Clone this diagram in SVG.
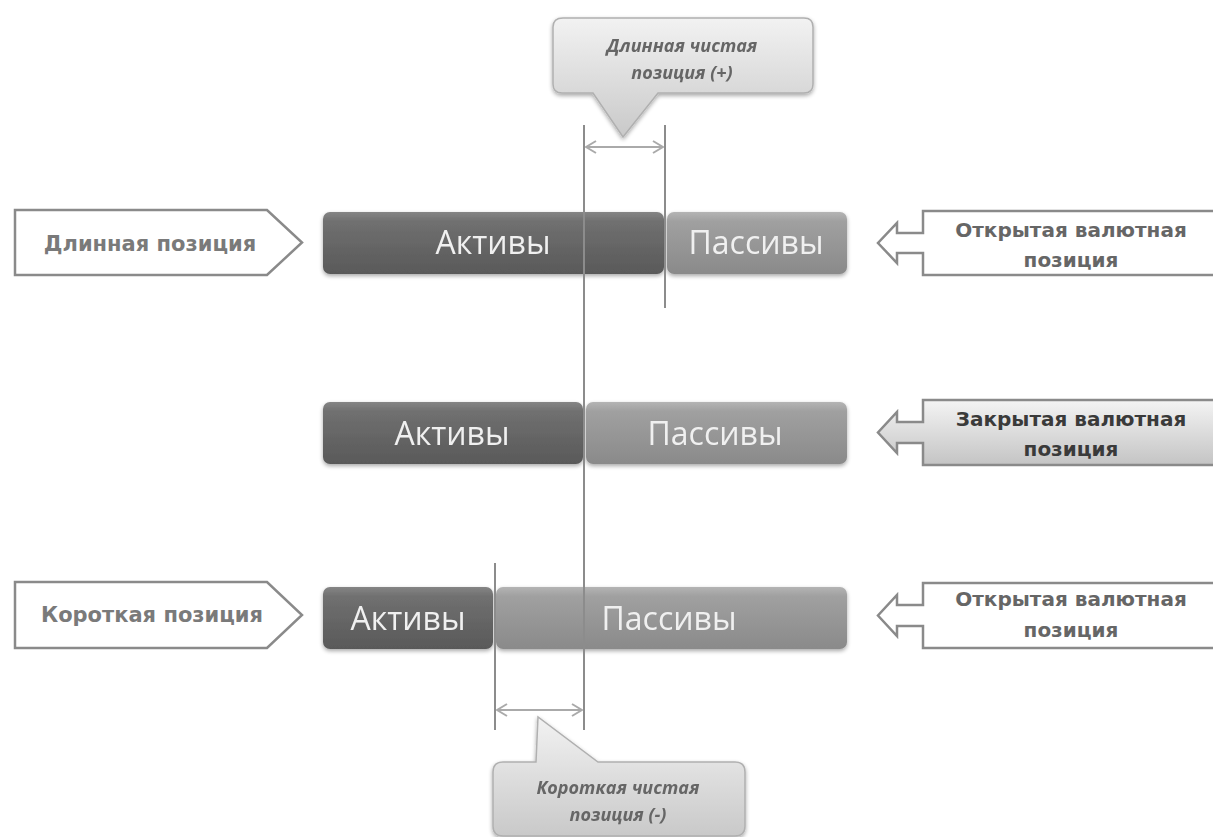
<svg xmlns="http://www.w3.org/2000/svg" width="1213" height="837" viewBox="0 0 1213 837">
<defs>
<linearGradient id="gDark" x1="0" y1="0" x2="0" y2="1">
<stop offset="0" stop-color="#858585"/><stop offset="0.15" stop-color="#707070"/><stop offset="1" stop-color="#595959"/>
</linearGradient>
<linearGradient id="gLight" x1="0" y1="0" x2="0" y2="1">
<stop offset="0" stop-color="#b4b4b4"/><stop offset="0.15" stop-color="#a0a0a0"/><stop offset="1" stop-color="#8a8a8a"/>
</linearGradient>
<linearGradient id="gCall" x1="0" y1="0" x2="0" y2="1">
<stop offset="0" stop-color="#f2f2f2"/><stop offset="1" stop-color="#c9c9c9"/>
</linearGradient>
<linearGradient id="gClosed" x1="0" y1="0" x2="0" y2="1">
<stop offset="0" stop-color="#f4f4f4"/><stop offset="1" stop-color="#c4c4c4"/>
</linearGradient>
<filter id="sh" x="-5%" y="-20%" width="110%" height="150%">
<feGaussianBlur in="SourceAlpha" stdDeviation="2"/>
<feOffset dy="2"/>
<feComponentTransfer><feFuncA type="linear" slope="0.35"/></feComponentTransfer>
<feMerge><feMergeNode/><feMergeNode in="SourceGraphic"/></feMerge>
</filter>
<marker id="ah" viewBox="0 0 12 14" refX="11" refY="7" markerWidth="12" markerHeight="14" markerUnits="userSpaceOnUse" orient="auto-start-reverse">
<path d="M1,1 L11,7 L1,13" fill="none" stroke="#aaaaaa" stroke-width="2"/>
</marker>
</defs>
<style>
.bar{font-family:"Open Sans","Noto Sans","DejaVu Sans",sans-serif;font-size:32px;fill:#f0f0f0;text-anchor:middle}
.lbl{font-family:"DejaVu Sans","Open Sans",sans-serif;font-weight:bold;font-size:21px;fill:#7a7a7a;text-anchor:middle}
.rlbl{font-family:"DejaVu Sans","Open Sans",sans-serif;font-weight:bold;font-size:20px;fill:#666;text-anchor:middle}
.rlbl2{fill:#3a3a3a}
.call{font-family:"Open Sans","DejaVu Sans",sans-serif;font-weight:bold;font-style:italic;font-size:18px;fill:#666;text-anchor:middle}
.box{fill:#fff;stroke:#8a8a8a;stroke-width:2.5}
.cbox{fill:url(#gCall);stroke:#b0b0b0;stroke-width:1.5}
.vl{stroke:#8c8c8c;stroke-width:2;fill:none}
.dim{stroke:#aaaaaa;stroke-width:2;fill:none}
</style>

<g id="long-position">
<polygon class="box" points="15,210 267,210 302,242.5 267,275 15,275"/>
<text class="lbl" x="150" y="251">Длинная позиция</text>
</g>
<g id="short-position">
<polygon class="box" points="15,582 267,582 302,615 267,648 15,648"/>
<text class="lbl" x="152" y="622">Короткая позиция</text>
</g>

<g id="row1-assets" filter="url(#sh)">
<rect x="323" y="212" width="341" height="62" rx="7" fill="url(#gDark)"/>
<text class="bar" x="493" y="254">Активы</text>
</g>
<g id="row1-liabilities" filter="url(#sh)">
<rect x="667" y="212" width="180" height="62" rx="7" fill="url(#gLight)"/>
<text class="bar" x="756" y="254">Пассивы</text>
</g>
<g id="row2-assets" filter="url(#sh)">
<rect x="323" y="402" width="260" height="62" rx="7" fill="url(#gDark)"/>
<text class="bar" x="452" y="445">Активы</text>
</g>
<g id="row2-liabilities" filter="url(#sh)">
<rect x="586" y="402" width="261" height="62" rx="7" fill="url(#gLight)"/>
<text class="bar" x="715" y="445">Пассивы</text>
</g>
<g id="row3-assets" filter="url(#sh)">
<rect x="323" y="587" width="170" height="62" rx="7" fill="url(#gDark)"/>
<text class="bar" x="408" y="630">Активы</text>
</g>
<g id="row3-liabilities" filter="url(#sh)">
<rect x="496" y="587" width="351" height="62" rx="7" fill="url(#gLight)"/>
<text class="bar" x="669" y="630">Пассивы</text>
</g>

<g id="open-position-1">
<path class="box" d="M1220,211 L923,211 L923,233 L897,233 L897,223 L878,243 L897,263 L897,253 L923,253 L923,275 L1220,275"/>
<text class="rlbl" x="1071" y="237">Открытая валютная</text>
<text class="rlbl" x="1071" y="267">позиция</text>
</g>
<g id="closed-position">
<path class="box" style="fill:url(#gClosed)" d="M1220,400 L923,400 L923,422 L897,422 L897,412 L878,432.5 L897,453 L897,443 L923,443 L923,465 L1220,465"/>
<text class="rlbl rlbl2" x="1071" y="426">Закрытая валютная</text>
<text class="rlbl rlbl2" x="1071" y="456">позиция</text>
</g>
<g id="open-position-2">
<path class="box" d="M1220,583 L923,583 L923,605 L897,605 L897,595 L878,615.5 L897,636 L897,626 L923,626 L923,648 L1220,648"/>
<text class="rlbl" x="1071" y="606">Открытая валютная</text>
<text class="rlbl" x="1071" y="637">позиция</text>
</g>

<g id="long-net-callout" filter="url(#sh)">
<path class="cbox" d="M563,18 L804,18 Q813,18 813,27 L813,84 Q813,93 804,93 L658,93 L623,137 L593,93 L562,93 Q553,93 553,84 L553,27 Q553,18 563,18 Z"/>
<text class="call" x="682" y="52">Длинная чистая</text>
<text class="call" x="682" y="79">позиция (+)</text>
</g>
<g id="short-net-callout" filter="url(#sh)">
<path class="cbox" d="M503,762 L536,762 L538,717 L598,762 L735,762 Q745,762 745,772 L745,826 Q745,836 735,836 L503,836 Q493,836 493,826 L493,772 Q493,762 503,762 Z"/>
<text class="call" x="618" y="794">Короткая чистая</text>
<text class="call" x="618" y="821">позиция (-)</text>
</g>

<g id="connectors">
<line class="vl" x1="584" y1="125" x2="584" y2="730"/>
<line class="vl" x1="665" y1="125" x2="665" y2="308"/>
<line class="vl" x1="495" y1="563" x2="495" y2="730"/>
<line class="dim" x1="586" y1="147" x2="663" y2="147" marker-start="url(#ah)" marker-end="url(#ah)"/>
<line class="dim" x1="497" y1="710" x2="582" y2="710" marker-start="url(#ah)" marker-end="url(#ah)"/>
</g>
</svg>
